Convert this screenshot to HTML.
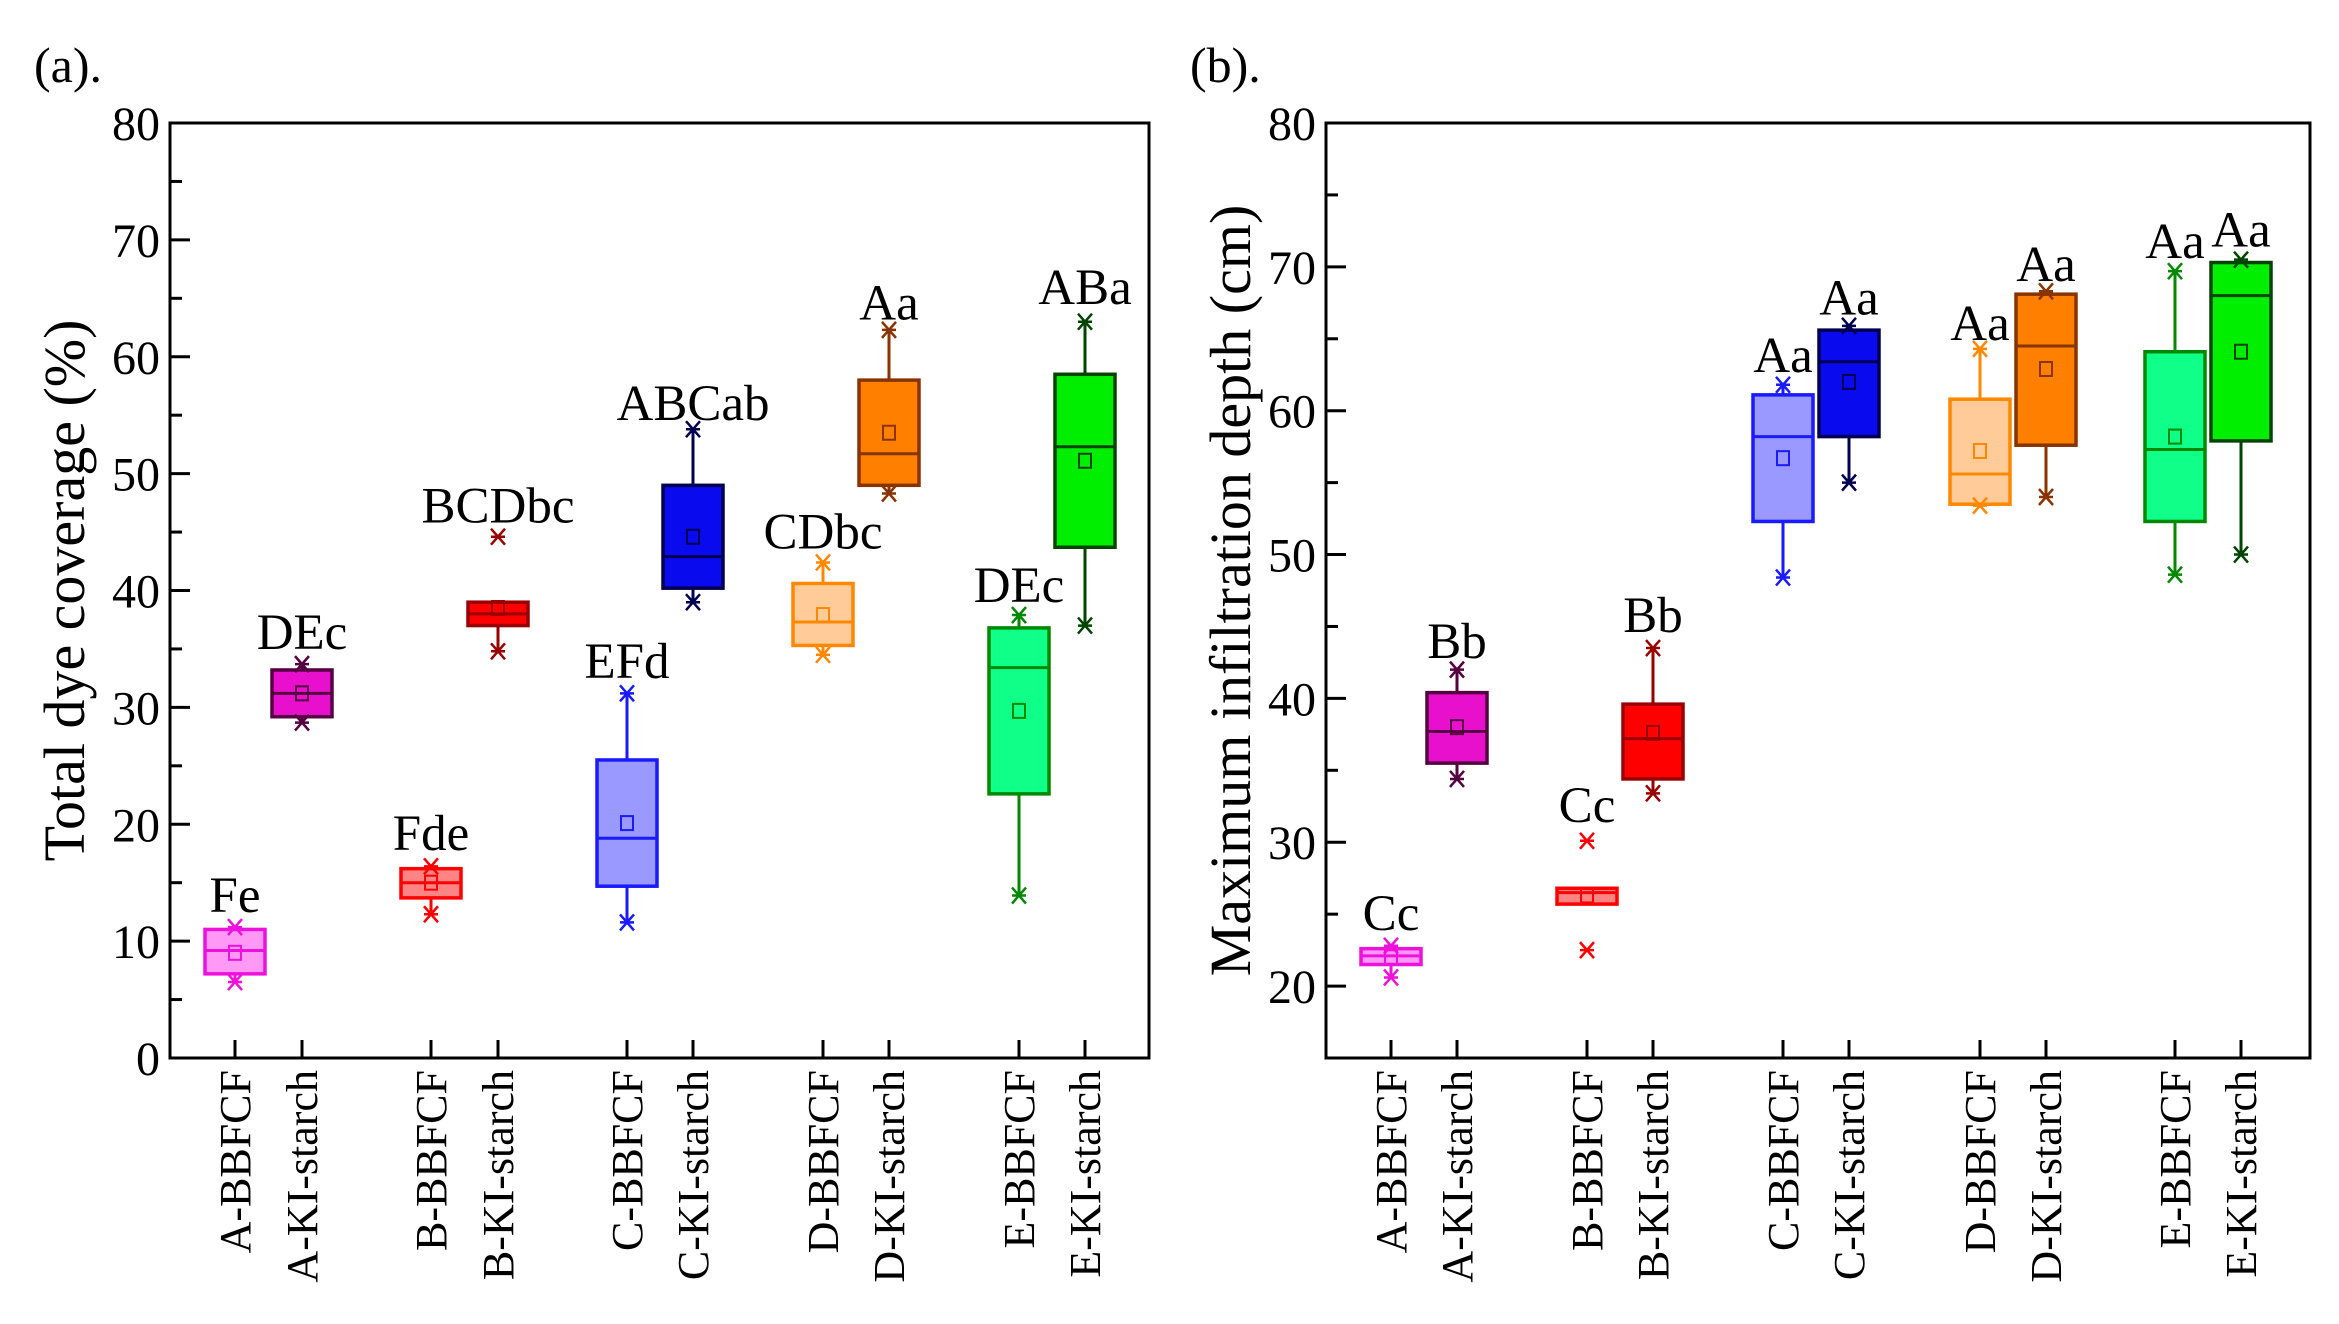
<!DOCTYPE html>
<html><head><meta charset="utf-8"><style>
body{margin:0;background:#fff}
svg{display:block}
text{font-family:"Liberation Serif",serif;fill:#000}
</style></head><body>
<svg id="s" width="2339" height="1324" viewBox="0 0 2339 1324" xmlns="http://www.w3.org/2000/svg"></svg>
<script>
const categories=["A-BBFCF","A-KI-starch","B-BBFCF","B-KI-starch","C-BBFCF","C-KI-starch","D-BBFCF","D-KI-starch","E-BBFCF","E-KI-starch"];
const fills=["#ff99f5","#e810cc","#ff8585","#ff0000","#9999ff","#0a0aee","#ffcc99","#ff8000","#10ff88","#00ee00"];
const strokes=["#ee10dd","#550040","#ff0000","#990000","#1a1aff","#000050","#ff8800","#883300","#008800","#004400"];
// panel a
const aQ1=[7.2,29.2,13.7,37.0,14.7,40.2,35.3,49.0,22.6,43.7];
const aQ3=[11.0,33.2,16.2,39.0,25.5,49.0,40.6,58.0,36.8,58.5];
const aMed=[9.2,31.2,15.0,38.0,18.8,42.9,37.3,51.7,33.4,52.3];
const aMean=[9.0,31.2,15.0,38.5,20.1,44.6,37.9,53.5,29.7,51.1];
const aMin=[6.5,28.7,12.3,34.8,11.6,39.0,34.5,48.3,13.9,37.0];
const aMax=[11.2,33.7,16.4,44.6,31.2,53.8,42.4,62.3,37.9,63.0];
const aWhiskHi=[11.2,33.7,16.4,39.0,31.2,53.8,42.4,62.3,37.9,63.0];
const aLetters=["Fe","DEc","Fde","BCDbc","EFd","ABCab","CDbc","Aa","DEc","ABa"];
const aLetterY=[12.5,35.0,17.8,45.8,32.5,54.6,43.6,63.2,39.0,64.5];
const aTicks=[0,10,20,30,40,50,60,70,80];
// panel b
const bQ1=[21.5,35.5,25.7,34.4,52.3,58.2,53.5,57.6,52.3,57.9];
const bQ3=[22.6,40.4,26.8,39.6,61.1,65.6,60.8,68.1,64.1,70.3];
const bMed=[22.1,37.7,26.5,37.2,58.2,63.4,55.6,64.5,57.3,68.0];
const bMean=[22.0,38.0,26.3,37.6,56.7,62.0,57.2,62.9,58.2,64.1];
const bMin=[20.6,34.4,22.5,33.4,48.4,55.0,53.4,54.0,48.6,50.0];
const bMax=[22.8,42.0,30.1,43.5,61.8,65.9,64.3,68.3,69.7,70.5];
const bWhiskLo=[20.6,34.4,25.7,33.4,48.4,55.0,53.4,54.0,48.6,50.0];
const bWhiskHi=[22.8,42.0,26.8,43.5,61.8,65.9,64.3,68.3,69.7,70.5];
const bLetters=["Cc","Bb","Cc","Bb","Aa","Aa","Aa","Aa","Aa","Aa"];
const bLetterY=[23.9,42.8,31.4,44.6,62.7,66.7,64.9,69.0,70.6,71.4];
const bTicks=[20,30,40,50,60,70,80];

const NS="http://www.w3.org/2000/svg";
const svg=document.getElementById('s');
function mk(tag,attrs,parent,txt){const e=document.createElementNS(NS,tag);for(const k in attrs)e.setAttribute(k,attrs[k]);if(txt!==undefined)e.textContent=txt;(parent||svg).appendChild(e);return e;}

function panel(P){
  const g=mk('g',{});
  
  
  const y=v=>P.top+(P.ymax-v)/(P.ymax-P.ymin)*(P.bottom-P.top);
  const xs=P.xs;
  const fr=mk('rect',{x:P.left,y:P.top,width:P.right-P.left,height:P.bottom-P.top,fill:'none',stroke:'#000','stroke-width':3},g);
  
  
  for(let v=P.ymin;v<=P.ymax;v+=5){
    const major=(v%10===0);
    const t=mk('line',{x1:P.left,x2:P.left+(major?20:12),y1:y(v),y2:y(v),stroke:'#000','stroke-width':3},g);
    
    
  }
  P.ticks.forEach(v=>{
    const t=mk('text',{x:P.left-10,y:y(v)+17,'text-anchor':'end','font-size':48},g,String(v));
    
    
  });
  const cy=(P.top+P.bottom)/2;
  const yt=mk('text',{x:P.titleX,y:cy,'text-anchor':'middle','font-size':58,transform:`rotate(-90 ${P.titleX} ${cy})`},g,P.title);
  
  
  const pl=mk('text',{x:P.labX,y:82,'font-size':50},g,P.lab);
  
  
  categories.forEach((c,i)=>{
    const x=xs[i];
    const tk=mk('line',{x1:x,x2:x,y1:P.bottom,y2:P.bottom-18,stroke:'#000','stroke-width':3},g);
    
    
    const cl=mk('text',{x:0,y:0,'text-anchor':'end','font-size':44,transform:`translate(${x+15} ${P.bottom+12}) rotate(-90)`},g,c);
    
    
    const bg=mk('g',{},g);
    
    
    const w=60,sc=strokes[i];
    const wl=mk('line',{x1:x,x2:x,y1:y(P.wLo[i]),y2:y(P.wHi[i]),stroke:sc,'stroke-width':3},bg);
    
    
    const r=mk('rect',{x:x-w/2,y:y(P.q3[i]),width:w,height:y(P.q1[i])-y(P.q3[i]),fill:fills[i],stroke:sc,'stroke-width':3.5},bg);
    
    
    const md=mk('line',{x1:x-w/2,x2:x+w/2,y1:y(P.med[i]),y2:y(P.med[i]),stroke:sc,'stroke-width':3},bg);
    
    
    const mn=mk('rect',{x:x-6,y:y(P.mean[i])-7,width:12,height:14,fill:'none',stroke:sc,'stroke-width':2},bg);
    
    
    [P.min[i],P.max[i]].forEach(v=>{
      const yy=y(v);
      const m=mk('path',{d:`M${x-7} ${yy-8}L${x+7} ${yy+8}M${x-7} ${yy+8}L${x+7} ${yy-8}M${x-7} ${yy}L${x+7} ${yy}`,stroke:sc,'stroke-width':2.5,fill:'none'},bg);
      
      
    });
    const lt=mk('text',{x:x,y:y(P.letY[i]),'text-anchor':'middle','font-size':51},bg,P.let[i]);
    
    
  });
}
panel({name:'panel-a-dye-coverage',left:170,right:1149,top:123,bottom:1058,ymin:0,ymax:80,ticks:aTicks,
 xs:[235,302,431,498,627,693,823,889,1019,1085],title:'Total dye coverage  (%)',titleX:84,lab:'(a).',labX:34,
 q1:aQ1,q3:aQ3,med:aMed,mean:aMean,min:aMin,max:aMax,wLo:aMin,wHi:aWhiskHi,let:aLetters,letY:aLetterY});
panel({name:'panel-b-infiltration-depth',left:1326,right:2310,top:123,bottom:1058,ymin:15,ymax:80,ticks:bTicks,
 xs:[1391,1457,1587,1653,1783,1849,1980,2046,2175,2241],title:'Maximum infiltration depth (cm)',titleX:1250,lab:'(b).',labX:1190,
 q1:bQ1,q3:bQ3,med:bMed,mean:bMean,min:bMin,max:bMax,wLo:bWhiskLo,wHi:bWhiskHi,let:bLetters,letY:bLetterY});
</script>
</body></html>
